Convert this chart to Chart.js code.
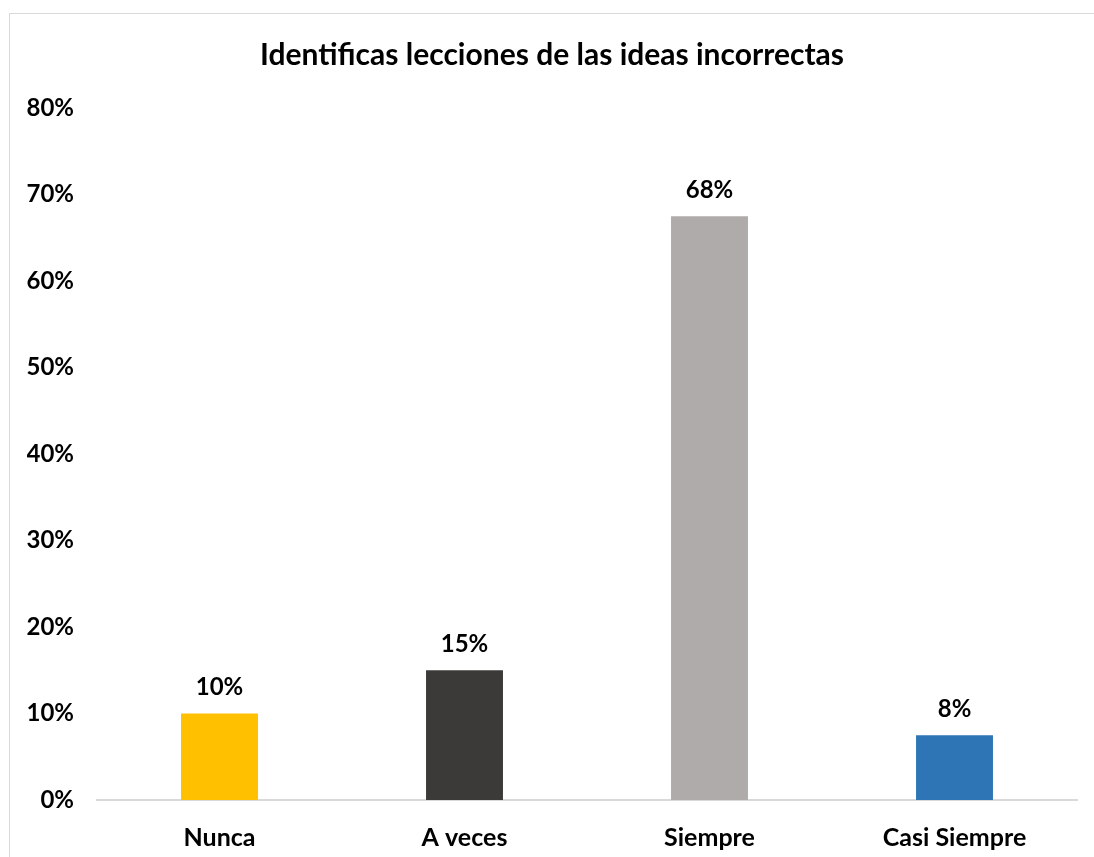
<!DOCTYPE html>
<html>
<head>
<meta charset="utf-8">
<script src="https://cdn.jsdelivr.net/npm/chart.js@4/dist/chart.umd.min.js"></script>
<style>
  html, body { margin: 0; padding: 0; background: #fff; overflow: hidden; }
  #frame { position: absolute; left: 9px; top: 13px; width: 1200px; height: 1000px; border: 1px solid #d9d9d9; }
  #wrap { position: absolute; left: 0; top: 0; width: 1094px; height: 857px; }
</style>
</head>
<body>
<div id="frame"></div>
<div id="wrap"><canvas id="chart"></canvas></div>
<script>
const categories = ['Nunca', 'A veces', 'Siempre', 'Casi Siempre'];
const values = [10, 15, 67.5, 7.5];
const barColors = ['#FFC000', '#3B3A38', '#AFABAB', '#2E75B6'];
const yTicks = [0, 10, 20, 30, 40, 50, 60, 70, 80];

const fontFamily = 'Lato, "Open Sans", sans-serif';

// value labels above each bar
const barLabels = {
    id: 'barLabels',
    afterDatasetsDraw(chart) {
        const ctx = chart.ctx;
        const meta = chart.getDatasetMeta(0);
        ctx.save();
        ctx.font = 'bold 24px ' + fontFamily;
        ctx.fillStyle = '#000';
        ctx.textAlign = 'center';
        ctx.textBaseline = 'middle';
        meta.data.forEach((bar, i) => {
            ctx.fillText(Math.round(values[i]) + '%', bar.x, bar.y - 26);
        });
        ctx.restore();
    }
};

new Chart(document.getElementById('chart').getContext('2d'), {
    type: 'bar',
    data: {
        labels: categories,
        datasets: [{
            data: values,
            backgroundColor: barColors,
            barPercentage: 0.314,
            categoryPercentage: 1
        }]
    },
    options: {
        responsive: true,
        maintainAspectRatio: false,
        animation: false,
        layout: { padding: { left: 27, right: 17, top: 30, bottom: 0 } },
        plugins: {
            legend: { display: false },
            tooltip: { enabled: false },
            title: {
                display: true,
                text: 'Identificas lecciones de las ideas incorrectas',
                color: '#000',
                font: { family: fontFamily, size: 30, weight: 'bold' },
                padding: { top: 7, bottom: 35 }
            }
        },
        scales: {
            x: {
                grid: { display: false, drawTicks: false },
                border: { color: '#d9d9d9', width: 2 },
                ticks: {
                    color: '#000',
                    padding: 23,
                    font: { family: fontFamily, size: 25, weight: 'bold' }
                },
                afterFit(scale) { scale.height = 57; }
            },
            y: {
                min: 0,
                max: 80,
                afterBuildTicks(scale) { scale.ticks = yTicks.map(v => ({ value: v })); },
                grid: { display: false, drawTicks: false },
                border: { display: false },
                ticks: {
                    color: '#000',
                    padding: 23,
                    font: { family: fontFamily, size: 24, weight: 'bold' },
                    callback: v => v + '%'
                },
                afterFit(scale) { scale.width = 70; }
            }
        }
    },
    plugins: [barLabels]
});
</script>
</body>
</html>
